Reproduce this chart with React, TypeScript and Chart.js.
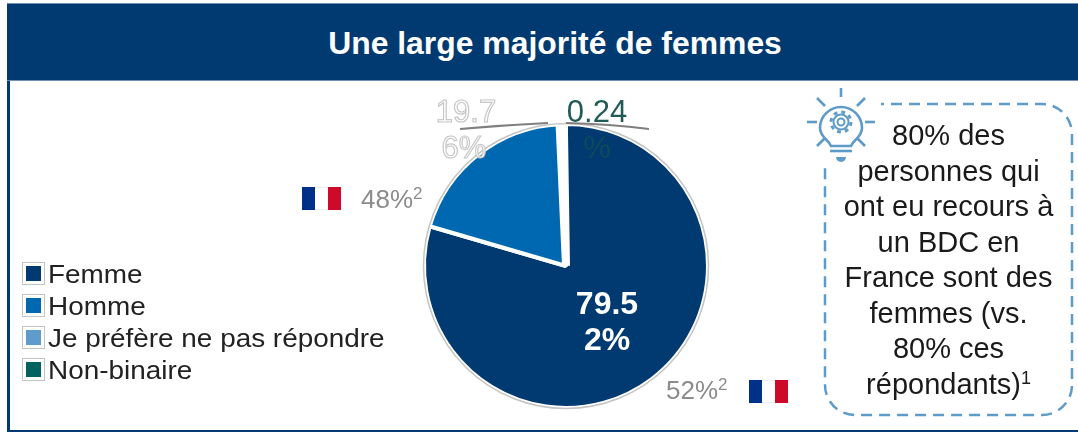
import React, { useEffect, useRef } from "react";
import { Chart, registerables } from "chart.js";

Chart.register(...registerables);

const categories = ["Femme", "Homme", "Je préfère ne pas répondre", "Non-binaire"];
const shares = [79.52, 19.76, 0.48, 0.24];
const colors = ["#003a70", "#0068b0", "#5f9bcb", "#00635f"];
const titleText = "Une large majorité de femmes";
const calloutLines = ["80% des", "personnes qui", "ont eu recours à", "un BDC en", "France sont des", "femmes (vs.", "80% ces", "répondants)"];
const frenchShares = ["48%", "52%"];

const FONT = '"Liberation Sans", Arial, sans-serif';
const NAVY = "#003a70";
const ICON = "#5f9bc8";

const pieDecor = {
  id: "pieDecor",
  afterDatasetsDraw(chart: any) {
    const { ctx } = chart;
    const arc = chart.getDatasetMeta(0).data[0];
    ctx.save();
    ctx.beginPath();
    ctx.arc(arc.x, arc.y, arc.outerRadius + 0.5, 0, Math.PI * 2);
    ctx.strokeStyle = "#c4c4c4";
    ctx.lineWidth = 1.5;
    ctx.stroke();

    ctx.strokeStyle = "#7f7f7f";
    ctx.lineWidth = 1.8;
    ctx.beginPath();
    ctx.moveTo(460, 129);
    ctx.quadraticCurveTo(505, 125, 548, 123);
    ctx.stroke();
    ctx.beginPath();
    ctx.moveTo(566, 123);
    ctx.quadraticCurveTo(610, 124, 649, 129);
    ctx.stroke();

    ctx.textAlign = "center";
    ctx.textBaseline = "middle";

    const split = (v: number) => {
      const s = `${v}%`;
      return [s.slice(0, 4), s.slice(4)];
    };

    const [a1, a2] = split(shares[0]);
    ctx.fillStyle = "#ffffff";
    ctx.font = `bold 32px ${FONT}`;
    ctx.fillText(a1, 607, 305);
    ctx.fillText(a2, 607, 341);

    const [b1, b2] = split(shares[1]);
    ctx.font = `31px ${FONT}`;
    ctx.fillStyle = "#ffffff";
    ctx.strokeStyle = "#c8c8c8";
    ctx.lineWidth = 1.2;
    ctx.fillText(b1, 466, 113);
    ctx.strokeText(b1, 466, 113);
    ctx.fillText(b2, 464, 149);
    ctx.strokeText(b2, 464, 149);

    const [c1, c2] = split(shares[3]);
    ctx.fillStyle = "#1f5b57";
    ctx.fillText(c1, 597, 113);
    ctx.fillStyle = "#0d4a5e";
    ctx.fillText(c2, 597, 149);
    ctx.restore();
  },
};

function Flag({ x, y }: { x: number; y: number }) {
  return (
    <div style={{ position: "absolute", left: x, top: y, width: 39, height: 23, display: "flex" }}>
      <div style={{ flex: 1, background: "#003189" }} />
      <div style={{ flex: 1, background: "#ffffff", borderTop: "1px solid #eee", borderBottom: "1px solid #eee" }} />
      <div style={{ flex: 1, background: "#ce0a2b" }} />
    </div>
  );
}

function GreyShare({ x, y, text }: { x: number; y: number; text: string }) {
  return (
    <div style={{ position: "absolute", left: x, top: y, font: `26px/30px ${FONT}`, color: "#8c8c8c", whiteSpace: "nowrap" }}>
      {text}
      <sup style={{ fontSize: 17, lineHeight: 0, verticalAlign: 9 }}>2</sup>
    </div>
  );
}

function BulbIcon() {
  const rays = [[0, -34, 0, -25], [24, -24, 16, -16], [34, 0, 24, 0], [24, 24, 16, 16], [-24, 24, -16, 16], [-34, 0, -24, 0], [-24, -24, -16, -16]];
  return (
    <svg width="80" height="84" viewBox="-40 -40 80 84" style={{ position: "absolute", left: 801, top: 82, background: "#fff" }}>
      <g fill="none" stroke={ICON} strokeWidth="2.6">
        {rays.map((r, i) => <line key={i} x1={r[0]} y1={r[1]} x2={r[2]} y2={r[3]} />)}
        <path d="M-10 24 C-13 17 -21 15 -21 6 A21 21 0 0 1 21 6 C21 15 13 17 10 24 Z" />
        <line x1="-11" y1="29" x2="11" y2="29" />
        <circle cx="0" cy="0" r="3.5" strokeWidth="2" />
        <circle cx="0" cy="0" r="7.5" strokeWidth="2" />
        <circle cx="0" cy="0" r="10" strokeDasharray="3.85 4" strokeWidth="3" />
      </g>
      <path d="M-5 35 H5 A5 5 0 0 1 -5 35 Z" fill={ICON} />
    </svg>
  );
}

export default function App() {
  const ref = useRef<HTMLCanvasElement>(null);
  useEffect(() => {
    const chart = new Chart(ref.current!, {
      type: "pie",
      data: {
        labels: categories,
        datasets: [{ data: shares, backgroundColor: colors, borderColor: "#ffffff", borderWidth: [4, 4, 8, 4] }],
      },
      options: {
        animation: false,
        responsive: false,
        layout: { padding: { left: 420, right: 366, top: 120, bottom: 20 } },
        plugins: { legend: { display: false }, tooltip: { enabled: false } },
      },
      plugins: [pieDecor],
    } as any);
    return () => chart.destroy();
  }, []);

  return (
    <div style={{ position: "fixed", left: 0, top: 0, width: 1078, height: 432, overflow: "hidden", background: "#fff", fontFamily: FONT }}>
      <canvas ref={ref} width={1078} height={432} style={{ position: "absolute", left: 0, top: 0, display: "block" }} />
      <div style={{ position: "absolute", left: 7, top: 3, width: 1071, height: 78, background: NAVY, color: "#fff", font: `bold 31.9px/78px ${FONT}`, textAlign: "center", paddingLeft: 25, borderTop: "1px solid #6f8fb0", borderBottom: "1px solid #6f8fb0", boxSizing: "border-box" }}>
        {titleText}
      </div>
      <div style={{ position: "absolute", left: 7, top: 81, width: 2.5, height: 351, background: NAVY }} />
      <div style={{ position: "absolute", left: 7, top: 430, width: 1071, height: 2, background: NAVY }} />

      {categories.map((c, i) => (
        <React.Fragment key={c}>
          <div style={{ position: "absolute", left: 22, top: 262 + i * 32, width: 23, height: 23, boxSizing: "border-box", border: "1px solid #c4c4c4", background: "#fff" }}>
            <div style={{ position: "absolute", left: 3, top: 3, width: 15, height: 15, background: colors[i] }} />
          </div>
          <div style={{ position: "absolute", left: 48, top: 259 + i * 32, font: `25.5px/30px ${FONT}`, color: "#222", whiteSpace: "nowrap", transform: "scaleX(1.094)", transformOrigin: "left center" }}>{c}</div>
        </React.Fragment>
      ))}

      <Flag x={302} y={187} />
      <GreyShare x={361} y={184} text={frenchShares[0]} />
      <GreyShare x={666} y={375} text={frenchShares[1]} />
      <Flag x={749} y={380} />

      <svg width="1078" height="432" style={{ position: "absolute", left: 0, top: 0 }}>
        <rect x="825" y="104" width="247" height="311" rx="30" ry="30" fill="none" stroke={ICON} strokeWidth="2.5" strokeDasharray="11 7" />
      </svg>
      <BulbIcon />
      <div style={{ position: "absolute", left: 825, top: 118, width: 247, textAlign: "center", font: `29px/35.5px ${FONT}`, color: "#1a1a1a" }}>
        {calloutLines.map((l, i) => (
          <div key={i} style={{ whiteSpace: "nowrap" }}>
            {l}
            {i === calloutLines.length - 1 ? <sup style={{ fontSize: 18, lineHeight: 0, verticalAlign: 10 }}>1</sup> : null}
          </div>
        ))}
      </div>
    </div>
  );
}
